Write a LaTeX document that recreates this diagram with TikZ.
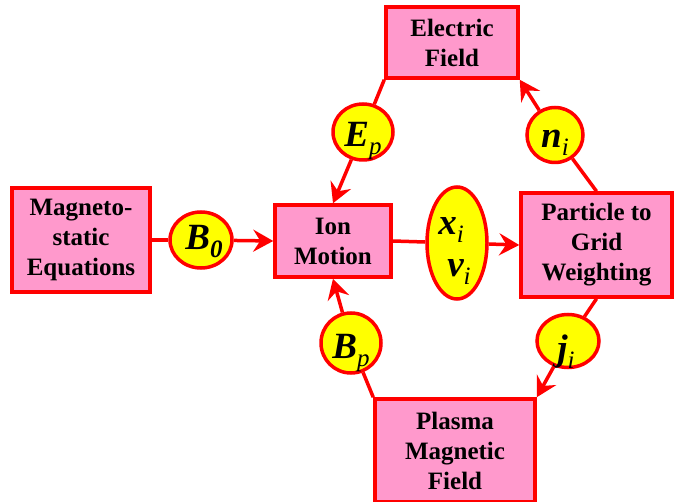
\documentclass[tikz,border=0pt]{standalone}
\usepackage{fontspec}
\setmainfont{Liberation Serif}
\usetikzlibrary{shapes.geometric,arrows.meta}
\definecolor{boxpink}{RGB}{255,153,204}
\definecolor{linered}{RGB}{255,0,0}
\definecolor{circyellow}{RGB}{255,255,0}
\tikzset{
  box/.style={draw=linered, fill=boxpink, line width=3.5pt, align=center,
    font=\fontsize{25}{30}\selectfont\bfseries, inner sep=0pt},
  var/.style={ellipse, draw=linered, fill=circyellow, line width=3.5pt, inner sep=0pt},
  vlab/.style={inner sep=0pt, anchor=base},
  link/.style={draw=linered, line width=3.5pt},
  arr/.style={link, -{Stealth[length=20pt,width=22pt,inset=7pt]}},
}
\newcommand{\mvar}[3]{{\fontsize{37}{37}\selectfont\bfseries\itshape #1}\raisebox{-8pt}{\fontsize{25}{25}\selectfont\itshape #3#2}}
\begin{document}
\begin{tikzpicture}[x=1pt,y=-1pt]
\useasboundingbox (0,0) rectangle (674,502);
% boxes
\node[box, minimum width=132, minimum height=71] (ef) at (452,42.5) {Electric\\Field};
\node[box, minimum width=138, minimum height=104] (mag) at (81,240) {Magneto-\\static\\Equations};
\node[box, minimum width=116, minimum height=72] (ion) at (333,241) {Ion\\Motion};
\node[box, minimum width=151, minimum height=104] (pg) at (596.5,245) {Particle to\\Grid\\Weighting};
\node[box, minimum width=160, minimum height=103] (pm) at (455,450.5) {Plasma\\Magnetic\\Field};
% variable ellipses
\node[var, minimum width=60, minimum height=56] (ep) at (363,132) {};
\node[var, minimum width=62, minimum height=56] (b0) at (201,240) {};
\node[var, minimum width=56, minimum height=55] (ni) at (555,135) {};
\node[var, minimum width=60, minimum height=60] (bp) at (351,343) {};
\node[var, minimum width=62, minimum height=53] (ji) at (568,341) {};
\node[var, minimum width=60, minimum height=112] (xv) at (457,243) {};
% labels
\node[vlab] (ept) at (363,147) {\mvar{E}{p}{}};
\node[vlab] (b0t) at (204,250) {\mvar{B}{0}{\bfseries}};
\node[vlab] (nit) at (555,148) {\mvar{n}{i}{}};
\node[vlab] (bpt) at (351,358) {\mvar{B}{p}{}};
\node[vlab] (jit) at (566,360) {\mvar{j}{i}{}};
\node[vlab] (xit) at (451,235) {\mvar{x}{i}{}};
\node[vlab] (vit) at (459,277) {\mvar{v}{i}{}};
% connectors
\draw[link] (ef.south west) -- (ep);
\draw[arr] (ep) -- (ion.north);
\draw[link] (pg.north) -- (ni);
\draw[arr] (ni) -- (ef.south east);
\draw[link] (pg.south) -- (ji);
\draw[arr] (ji) -- (pm.north east);
\draw[link] (pm.north west) -- (bp);
\draw[arr] (bp) -- (ion.south);
\draw[link] (mag.east) -- (b0);
\draw[arr] (b0) -- (ion.west);
\draw[link] (ion.east) -- (xv);
\draw[arr] (xv) -- (pg.west);
\end{tikzpicture}
\end{document}
